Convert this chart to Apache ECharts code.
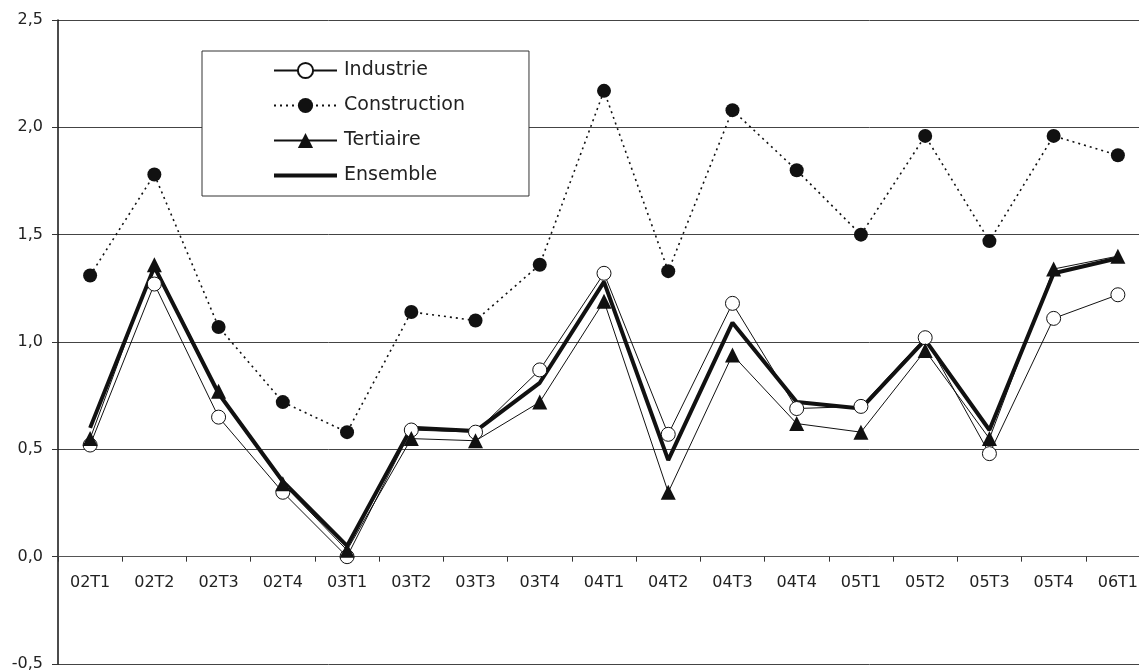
<!DOCTYPE html>
<html>
<head>
<meta charset="utf-8">
<script src="https://cdn.jsdelivr.net/npm/echarts@6/dist/echarts.min.js"></script>
<style>
html,body{margin:0;padding:0;background:#fff;}
#c{width:1139px;height:672px;}
</style>
</head>
<body>
<div id="c"></div>
<script>
const categories = ['02T1','02T2','02T3','02T4','03T1','03T2','03T3','03T4','04T1','04T2','04T3','04T4','05T1','05T2','05T3','05T4','06T1'];
const industrie    = [0.52, 1.27, 0.65, 0.30, 0.00, 0.59, 0.58, 0.87, 1.32, 0.57, 1.18, 0.69, 0.70, 1.02, 0.48, 1.11, 1.22];
const construction = [1.31, 1.78, 1.07, 0.72, 0.58, 1.14, 1.10, 1.36, 2.17, 1.33, 2.08, 1.80, 1.50, 1.96, 1.47, 1.96, 1.87];
const tertiaire    = [0.55, 1.36, 0.77, 0.34, 0.03, 0.55, 0.54, 0.72, 1.19, 0.30, 0.94, 0.62, 0.58, 0.96, 0.55, 1.34, 1.40];
const ensemble     = [0.60, 1.35, 0.76, 0.35, 0.05, 0.60, 0.585, 0.81, 1.28, 0.45, 1.09, 0.72, 0.69, 1.01, 0.59, 1.32, 1.39];
const yTicks = { min: -0.5, max: 2.5, interval: 0.5 };

const FONT = 'DejaVu Sans';
const GRID_TOP = 20, GRID_H = 644;
// category axis sits on the zero line: distance from the grid bottom
const zeroOffset = -GRID_H * (0 - yTicks.min) / (yTicks.max - yTicks.min);

const chart = echarts.init(document.getElementById('c'), null, { renderer: 'canvas' });
chart.setOption({
  animation: false,
  backgroundColor: '#fff',
  grid: { left: 58, top: GRID_TOP, width: 1092, height: GRID_H, containLabel: false, outerBoundsMode: 'none' },
  legend: {
    orient: 'vertical',
    left: 202, top: 51,
    padding: [10, 64, 11, 71],
    itemGap: 16,
    itemWidth: 63,
    itemHeight: 19,
    borderColor: '#333', borderWidth: 1,
    backgroundColor: '#fff',
    textStyle: { fontFamily: FONT, fontSize: 19, color: '#222', padding: [0, 0, 0, 2] },
    data: [
      { name: 'Industrie' },
      { name: 'Construction' },
      { name: 'Tertiaire' },
      { name: 'Ensemble', icon: 'path://M0,0L0,0Z M0,19L0,19Z M0,7.5H63V11.5H0Z', itemStyle: { color: '#111' } }
    ]
  },
  xAxis: {
    type: 'category',
    data: categories,
    boundaryGap: true,
    offset: zeroOffset,
    axisLine: { show: true, onZero: false, lineStyle: { color: '#555', width: 1 } },
    axisTick: { show: true, length: 5, lineStyle: { color: '#333' } },
    axisLabel: { fontFamily: FONT, fontSize: 16, color: '#222', margin: 18 },
    splitLine: { show: false }
  },
  yAxis: {
    type: 'value',
    min: yTicks.min, max: yTicks.max, interval: yTicks.interval,
    axisLine: { show: true, lineStyle: { color: '#111', width: 1.5 } },
    axisTick: { show: true, length: 6, lineStyle: { color: '#333' } },
    axisLabel: { fontFamily: FONT, fontSize: 16, color: '#222', margin: 15,
      formatter: v => v.toFixed(1).replace('.', ',') },
    splitLine: { show: true, lineStyle: { color: '#444', width: 1 } }
  },
  series: [
    { name: 'Industrie', type: 'line', data: industrie, z: 3,
      symbol: 'circle', symbolSize: 14, showAllSymbol: true,
      lineStyle: { color: '#111', width: 1 },
      itemStyle: { color: '#fff', borderColor: '#111', borderWidth: 1 } },
    { name: 'Construction', type: 'line', data: construction, z: 3,
      symbol: 'circle', symbolSize: 14, showAllSymbol: true,
      lineStyle: { color: '#111', width: 1.6, type: [2, 4] },
      itemStyle: { color: '#111', borderColor: '#111', borderWidth: 0 } },
    { name: 'Tertiaire', type: 'line', data: tertiaire, z: 3,
      symbol: 'triangle', symbolSize: 15, showAllSymbol: true,
      lineStyle: { color: '#111', width: 1 },
      itemStyle: { color: '#111', borderColor: '#111', borderWidth: 0 } },
    { name: 'Ensemble', type: 'line', data: ensemble, z: 2,
      symbol: 'none',
      lineStyle: { color: '#111', width: 4 },
      itemStyle: { color: '#111' } }
  ]
});
</script>
</body>
</html>
